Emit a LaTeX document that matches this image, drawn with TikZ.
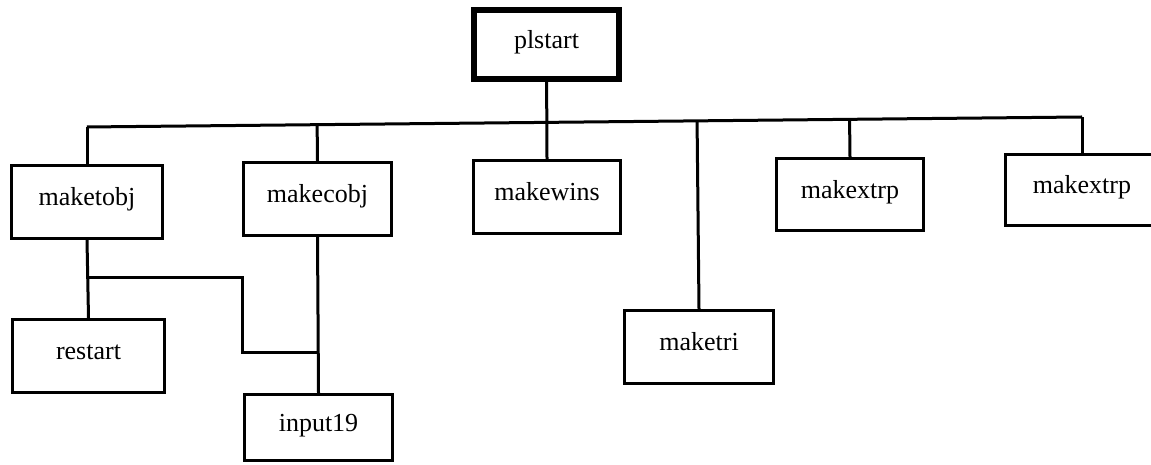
\documentclass[tikz,border=0pt]{standalone}
\usepackage{fontspec}
\setmainfont{Liberation Serif}
\usetikzlibrary{calc}
\begin{document}
\begin{tikzpicture}[x=1pt,y=1pt,
  module/.style={draw, line width=3pt, rectangle, inner sep=0pt,
    text height=18pt, text depth=10pt,
    font=\fontsize{26}{30}\selectfont},
  mainmodule/.style={module, line width=6pt},
  wire/.style={line width=3pt}]
\useasboundingbox (0,0) rectangle (1151,465);
\clip (0,0) rectangle (1151,465);

% modules
\node[mainmodule, minimum width=145, minimum height=69] (plstart)  at (546.5,420.5) {plstart};
\node[module, minimum width=151, minimum height=73] (maketobj)  at (87,263)    {maketobj};
\node[module, minimum width=148, minimum height=73] (makecobj)  at (317.5,266) {makecobj};
\node[module, minimum width=147, minimum height=73] (makewins)  at (547,268)   {makewins};
\node[module, minimum width=147, minimum height=72] (makextrpA) at (850,270.5) {makextrp};
\node[module, minimum width=153, minimum height=71] (makextrpB) at (1082,275)  {makextrp};
\node[module, minimum width=152, minimum height=73] (restart)   at (88.5,109)  {restart};
\node[module, minimum width=148, minimum height=66] (input19)   at (318.5,37.5){input19};
\node[module, minimum width=149, minimum height=73] (maketri)   at (699,118)   {maketri};

% distribution bus below plstart
\coordinate (busL) at (maketobj.north |- 0,338);
\coordinate (busR) at (makextrpB.north |- 0,348);
\draw[wire] (busL) -- (busR);
\draw[wire] (plstart.south) -- ($(busL)!(plstart.south)!(busR)$) -- (makewins.north);
\draw[wire] (maketobj.north) -- (busL);
\draw[wire] (makecobj.north) -- ($(busL)!(makecobj.north)!(busR)$);
\draw[wire] (maketri.north) -- ($(busL)!(maketri.north)!(busR)$);
\draw[wire] (makextrpA.north) -- ($(busL)!(makextrpA.north)!(busR)$);
\draw[wire] (makextrpB.north) -- (busR);

% lower level calls
\draw[wire] (maketobj.south) -- (restart.north);
\draw[wire] (makecobj.south) -- (input19.north);
\coordinate (tap) at (maketobj.south |- 0,187);
\coordinate (knee) at (242,112);
\draw[wire] (tap) -| (knee) -- (knee -| input19.north);
\end{tikzpicture}
\end{document}
